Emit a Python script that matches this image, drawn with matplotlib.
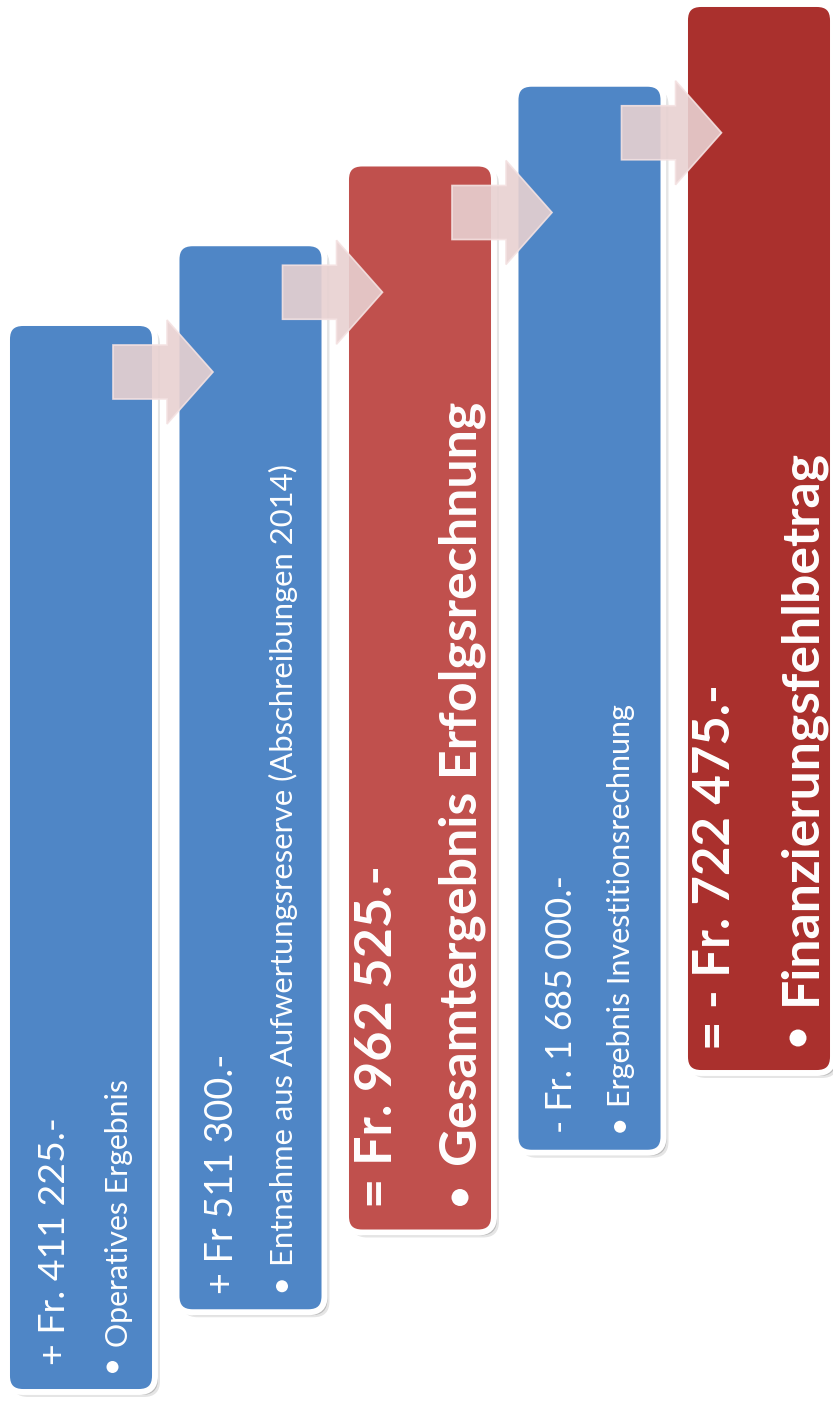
import matplotlib
matplotlib.use("Agg")
import matplotlib.pyplot as plt
from matplotlib.patches import FancyBboxPatch, Polygon, Circle

# chart content
amounts = ["+ Fr. 411 225.-", "+ Fr 511 300.-", "= Fr. 962 525.-",
           "- Fr. 1 685 000.-", "= - Fr. 722 475.-"]
descriptions = ["Operatives Ergebnis",
                "Entnahme aus Aufwertungsreserve (Abschreibungen 2014)",
                "Gesamtergebnis Erfolgsrechnung",
                "Ergebnis Investitionsrechnung",
                "Finanzierungsfehlbetrag"]
is_total = [False, False, True, False, True]

# styling
box_colors = ["#4F86C6", "#4F86C6", "#C0504D", "#4F86C6", "#AA302D"]
arrow_face = "#E8D1D1"
arrow_edge = "#F4E2E2"
font = ["Lato", "DejaVu Sans"]

# layout (pixels, y grows downward)
W, H = 833, 1405
step_x, step_y = 169.5, 79.75
box_w, box_h = 142, 1063
# per box: amount start/length/baseline, desc start/length/baseline, bullet x/y
amt_start = [24, 15, 22, 17, 20]
amt_len = [247, 240, 343, 258, 367]
amt_base = [55, 53.5, 43, 53.5, 42]
desc_start = [42, 43, 63, 43, 65]
desc_len = [269, 804, 765, 405, 557]
desc_base = [118, 113.5, 128, 111.5, 127]
bul_x = [102.5, 102.5, 111, 101.5, 110]
bul_y = [22, 23, 32, 23, 32]

fig = plt.figure(figsize=(W / 100, H / 100), dpi=100)
ax = fig.add_axes([0, 0, 1, 1])
ax.set_xlim(0, W)
ax.set_ylim(H, 0)
ax.axis("off")
renderer = fig.canvas.get_renderer()


def fit_text(x, y, s, length, bold):
    t = ax.text(x, y, s, rotation=90, rotation_mode="anchor", ha="left",
                va="baseline", fontsize=20, color="white", family=font,
                fontweight="bold" if bold else "normal", zorder=5)
    h = t.get_window_extent(renderer).height
    t.set_fontsize(20 * length / h)
    return t


for k in range(len(amounts)):
    left = 10 + step_x * k
    top = 326 - step_y * k
    bottom = top + box_h

    # soft shadow
    for off, a in [(5, 0.10), (3, 0.18)]:
        ax.add_patch(FancyBboxPatch((left - 3 + off, top - 3 + off), box_w + 6, box_h + 6,
                                    boxstyle="round,pad=0,rounding_size=16",
                                    facecolor="black", edgecolor="none", alpha=a,
                                    zorder=1 + k * 0.1))
    ax.add_patch(FancyBboxPatch((left - 3, top - 3), box_w + 6, box_h + 6,
                                boxstyle="round,pad=0,rounding_size=16",
                                facecolor=box_colors[k], edgecolor="white",
                                linewidth=4.3, zorder=1.05 + k * 0.1))

    bold = is_total[k]
    fit_text(left + amt_base[k], bottom - amt_start[k], amounts[k], amt_len[k], bold)
    fit_text(left + desc_base[k], bottom - desc_start[k], descriptions[k], desc_len[k], bold)
    ax.add_patch(Circle((left + bul_x[k], bottom - bul_y[k]), 8.5 if bold else 6,
                        facecolor="white", edgecolor="none", zorder=5))

# block arrows between the boxes
for k in range(len(amounts) - 1):
    tx = 113 + step_x * k
    cy = 372 - step_y * k
    pts = [(tx, cy - 27), (tx + 54, cy - 27), (tx + 54, cy - 52), (tx + 100, cy),
           (tx + 54, cy + 52), (tx + 54, cy + 27), (tx, cy + 27)]
    ax.add_patch(Polygon(pts, closed=True, facecolor=arrow_face, edgecolor=arrow_edge,
                         linewidth=1.2, alpha=0.9, zorder=10))

fig.savefig("out.png", dpi=100)
